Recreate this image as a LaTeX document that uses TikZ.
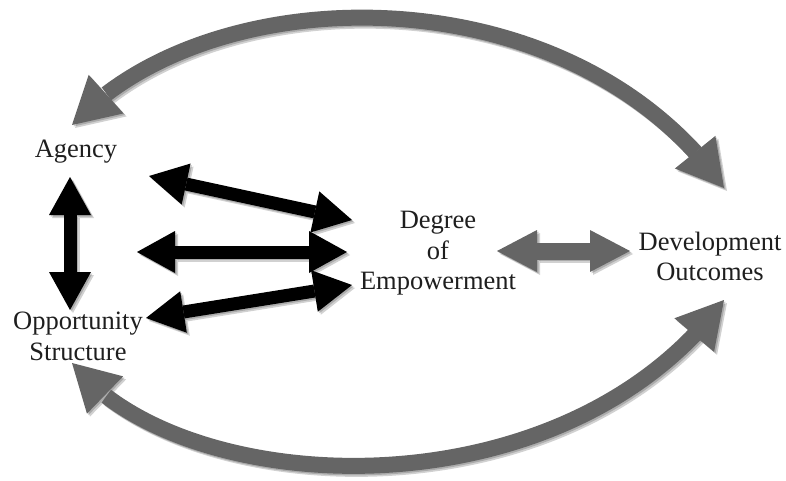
\documentclass[tikz,border=0pt]{standalone}
\usepackage{fontspec}
\setmainfont{Liberation Serif}
\usetikzlibrary{arrows.meta,bending}
\definecolor{arrgray}{RGB}{101,101,101}
\definecolor{txt}{RGB}{30,30,30}
\tikzset{
  lbl/.style={font=\fontsize{26.5}{30}\selectfont, inner sep=0pt, anchor=base, text=txt},
  blkhead/.style={Triangle[length=38pt,width=42pt,line width=0pt]},
  blk/.style={line width=13pt, {Triangle[length=38pt,width=42pt,line width=0pt]}-{Triangle[length=38pt,width=42pt,line width=0pt]}},
  gstraight/.style={line width=17pt, {Triangle[length=40pt,width=42pt,line width=0pt]}-{Triangle[length=40pt,width=42pt,line width=0pt]}},
  gcurve/.style={line width=16pt, {Triangle[length=46pt,width=52pt,line width=0pt,flex]}-{Triangle[length=46pt,width=52pt,line width=0pt,flex]}},
}
\newcommand\drawallarrows[2]{%
  \draw[blk,draw=#1,fill=#1] (v1) -- (v2);
  \draw[blk,draw=#1,fill=#1] (d1a) -- (d1b);
  \draw[blk,draw=#1,fill=#1] (d2a) -- (d2b);
  \draw[blk,draw=#1,fill=#1] (d3a) -- (d3b);
  \draw[gstraight,draw=#2,fill=#2] (g1) -- (g2);
  \draw[gcurve,draw=#2] (t1) .. controls (210,-25) and (570,-30) .. (t2);
  \draw[gcurve,draw=#2] (b1) .. controls (180,500) and (560,520) .. (b2);
}
\begin{document}
\begin{tikzpicture}[x=1pt,y=-1pt]
\useasboundingbox (0,0) rectangle (786,481);
% labels
\node[lbl] (agency) at (76,158) {Agency};
\node[lbl] (opp1) at (78,329) {Opportunity};
\node[lbl] (opp2) at (78,360) {Structure};
\node[lbl] (deg1) at (438,228) {Degree};
\node[lbl] (deg2) at (438,259) {of};
\node[lbl] (deg3) at (438,289) {Empowerment};
\node[lbl] (dev1) at (710,250) {Development};
\node[lbl] (dev2) at (710,280) {Outcomes};
% arrow end points
\coordinate (v1) at (70,177);
\coordinate (v2) at (70,310);
\coordinate (d1a) at (149,176);
\coordinate (d1b) at (352,220);
\coordinate (d2a) at (137,252);
\coordinate (d2b) at (347,252);
\coordinate (d3a) at (146,318);
\coordinate (d3b) at (352,285);
\coordinate (g1) at (497,251);
\coordinate (g2) at (630,251);
\coordinate (t1) at (72,125);
\coordinate (t2) at (724,188);
\coordinate (b1) at (72,363);
\coordinate (b2) at (724,300);
% shadows
\begin{scope}[transform canvas={shift={(3pt,-3pt)}}, opacity=0.18]
  \drawallarrows{black}{black}
\end{scope}
\begin{scope}[transform canvas={shift={(1.5pt,-1.5pt)}}, opacity=0.18]
  \drawallarrows{black}{black}
\end{scope}
% arrows
\drawallarrows{black}{arrgray}
\end{tikzpicture}
\end{document}
